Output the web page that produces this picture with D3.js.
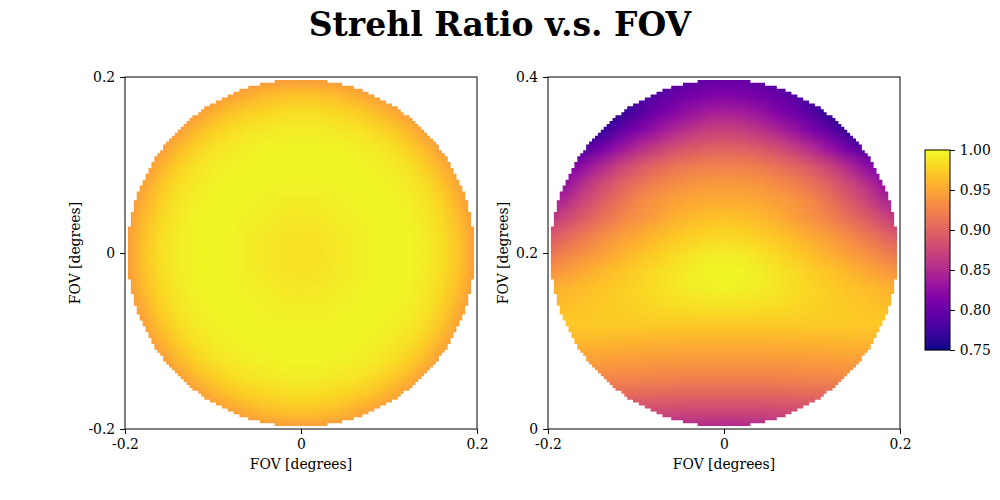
<!DOCTYPE html>
<html>
<head>
<meta charset="utf-8">
<script src="https://cdn.jsdelivr.net/npm/d3@7"></script>
<style>
  body { margin: 0; background: #fff; }
  svg { font-family: "DejaVu Serif", serif; }
</style>
</head>
<body>
<div id="chart"></div>
<script>
// Strehl ratio maps over the field of view

const chartTitle = 'Strehl Ratio v.s. FOV';
const axisLabel = 'FOV [degrees]';

const xTicks = [-0.2, 0, 0.2];
const xTickLabels = ['-0.2', '0', '0.2'];
const leftYTicks = [-0.2, 0, 0.2];
const leftYTickLabels = ['-0.2', '0', '0.2'];
const rightYTicks = [0, 0.2, 0.4];
const rightYTickLabels = ['0', '0.2', '0.4'];
const cbarTicks = [0.75, 0.80, 0.85, 0.90, 0.95, 1.00];

// sample positions of the grids (degrees)
const gridX = [-0.20, -0.18, -0.16, -0.14, -0.12, -0.10, -0.08, -0.06, -0.04, -0.02, 0.00,
  0.02, 0.04, 0.06, 0.08, 0.10, 0.12, 0.14, 0.16, 0.18, 0.20];
const leftGridY = [0.20, 0.18, 0.16, 0.14, 0.12, 0.10, 0.08, 0.06, 0.04, 0.02, 0.00,
  -0.02, -0.04, -0.06, -0.08, -0.10, -0.12, -0.14, -0.16, -0.18, -0.20];
const rightGridY = [0.40, 0.38, 0.36, 0.34, 0.32, 0.30, 0.28, 0.26, 0.24, 0.22, 0.20,
  0.18, 0.16, 0.14, 0.12, 0.10, 0.08, 0.06, 0.04, 0.02, 0.00];

// left map, rows top (y=0.2) to bottom (y=-0.2); null = outside the field
const leftStrehl = [
  [null,null,null,null,null,.918,.926,.932,.937,.940,.941,.940,.937,.932,.926,.918,null,null,null,null,null],
  [null,null,null,.916,.926,.937,.947,.955,.962,.966,.967,.966,.962,.955,.947,.937,.926,.916,null,null,null],
  [null,null,.916,.929,.942,.957,.968,.976,.981,.984,.985,.984,.981,.976,.968,.957,.942,.929,.916,null,null],
  [null,.916,.929,.944,.962,.975,.984,.989,.991,.993,.994,.993,.991,.989,.984,.975,.962,.944,.929,.916,null],
  [null,.926,.942,.962,.977,.987,.992,.995,.997,.998,.998,.998,.997,.995,.992,.987,.977,.962,.942,.926,null],
  [.918,.937,.957,.975,.987,.993,.996,.998,.999,.999,.999,.999,.999,.998,.996,.993,.987,.975,.957,.937,.918],
  [.926,.947,.968,.984,.992,.996,.998,.999,.998,.997,.997,.997,.998,.999,.998,.996,.992,.984,.968,.947,.926],
  [.932,.955,.976,.989,.995,.998,.999,.997,.996,.994,.994,.994,.996,.997,.999,.998,.995,.989,.976,.955,.932],
  [.937,.962,.981,.991,.997,.999,.998,.996,.993,.991,.990,.991,.993,.996,.998,.999,.997,.991,.981,.962,.937],
  [.940,.966,.984,.993,.998,.999,.997,.994,.991,.988,.987,.988,.991,.994,.997,.999,.998,.993,.984,.966,.940],
  [.941,.967,.985,.994,.998,.999,.997,.994,.990,.987,.986,.987,.990,.994,.997,.999,.998,.994,.985,.967,.941],
  [.940,.966,.984,.993,.998,.999,.997,.994,.991,.988,.987,.988,.991,.994,.997,.999,.998,.993,.984,.966,.940],
  [.937,.962,.981,.991,.997,.999,.998,.996,.993,.991,.990,.991,.993,.996,.998,.999,.997,.991,.981,.962,.937],
  [.932,.955,.976,.989,.995,.998,.999,.997,.996,.994,.994,.994,.996,.997,.999,.998,.995,.989,.976,.955,.932],
  [.926,.947,.968,.984,.992,.996,.998,.999,.998,.997,.997,.997,.998,.999,.998,.996,.992,.984,.968,.947,.926],
  [.918,.937,.957,.975,.987,.993,.996,.998,.999,.999,.999,.999,.999,.998,.996,.993,.987,.975,.957,.937,.918],
  [null,.926,.942,.962,.977,.987,.992,.995,.997,.998,.998,.998,.997,.995,.992,.987,.977,.962,.942,.926,null],
  [null,.916,.929,.944,.962,.975,.984,.989,.991,.993,.994,.993,.991,.989,.984,.975,.962,.944,.929,.916,null],
  [null,null,.916,.929,.942,.957,.968,.976,.981,.984,.985,.984,.981,.976,.968,.957,.942,.929,.916,null,null],
  [null,null,null,.916,.926,.937,.947,.955,.962,.966,.967,.966,.962,.955,.947,.937,.926,.916,null,null,null],
  [null,null,null,null,null,.918,.926,.932,.937,.940,.941,.940,.937,.932,.926,.918,null,null,null,null,null]
];

// right map, rows top (y=0.4) to bottom (y=0)
const rightStrehl = [
  [null,null,null,null,null,.760,.770,.780,.788,.793,.795,.793,.788,.780,.770,.760,null,null,null,null,null],
  [null,null,null,.755,.763,.775,.787,.797,.806,.812,.815,.812,.806,.797,.787,.775,.763,.755,null,null,null],
  [null,null,.750,.755,.765,.785,.802,.817,.830,.838,.842,.838,.830,.817,.802,.785,.765,.755,.750,null,null],
  [null,.752,.758,.768,.793,.812,.830,.846,.858,.868,.872,.868,.858,.846,.830,.812,.793,.768,.758,.752,null],
  [null,.772,.784,.805,.828,.849,.866,.880,.890,.896,.898,.896,.890,.880,.866,.849,.828,.805,.784,.772,null],
  [.790,.805,.825,.848,.870,.887,.900,.910,.917,.921,.922,.921,.917,.910,.900,.887,.870,.848,.825,.805,.790],
  [.810,.830,.855,.876,.895,.910,.922,.930,.936,.939,.940,.939,.936,.930,.922,.910,.895,.876,.855,.830,.810],
  [.835,.852,.875,.895,.912,.927,.937,.945,.950,.953,.954,.953,.950,.945,.937,.927,.912,.895,.875,.852,.835],
  [.860,.877,.895,.910,.924,.935,.945,.955,.962,.966,.967,.966,.962,.955,.945,.935,.924,.910,.895,.877,.860],
  [.890,.903,.917,.930,.942,.952,.961,.969,.975,.979,.980,.979,.975,.969,.961,.952,.942,.930,.917,.903,.890],
  [.912,.924,.935,.945,.955,.964,.972,.980,.987,.992,.993,.992,.987,.980,.972,.964,.955,.945,.935,.924,.912],
  [.935,.943,.952,.960,.968,.975,.982,.988,.994,.998,.999,.998,.994,.988,.982,.975,.968,.960,.952,.943,.935],
  [.955,.959,.964,.969,.974,.979,.984,.989,.993,.995,.996,.995,.993,.989,.984,.979,.974,.969,.964,.959,.955],
  [.963,.966,.969,.972,.975,.978,.981,.983,.985,.986,.986,.986,.985,.983,.981,.978,.975,.972,.969,.966,.963],
  [.970,.971,.972,.973,.973,.973,.973,.973,.972,.972,.972,.972,.972,.973,.973,.973,.973,.973,.972,.971,.970],
  [.959,.960,.960,.960,.959,.959,.958,.958,.957,.957,.957,.957,.957,.958,.958,.959,.959,.960,.960,.960,.959],
  [null,.945,.946,.946,.945,.944,.943,.943,.942,.942,.942,.942,.942,.943,.943,.944,.945,.946,.946,.945,null],
  [null,.929,.930,.930,.929,.928,.927,.926,.925,.925,.925,.925,.925,.926,.927,.928,.929,.930,.930,.929,null],
  [null,null,.905,.906,.906,.905,.904,.903,.902,.902,.902,.902,.902,.903,.904,.905,.906,.906,.905,null,null],
  [null,null,null,.876,.877,.877,.877,.876,.875,.875,.875,.875,.875,.876,.877,.877,.877,.876,null,null,null],
  [null,null,null,null,null,.848,.848,.847,.846,.845,.845,.845,.846,.847,.848,.848,null,null,null,null,null]
];

const width = 1000;
const height = 500;
const plotSize = 352;
const fieldRadius = 0.1975;   // radius of the field mask (degrees)
const maskCells = 120;        // pixel cells of the field mask across a panel
const tickLen = 4.9;
const tickPad = 4.9;
const fontSize = '13.9px';

const svg = d3.select('#chart')
  .append('svg')
  .attr('width', width)
  .attr('height', height);

const color = d3.scaleSequential(d3.interpolatePlasma)
  .domain([0.75, 1])
  .clamp(true);

svg.append('text')
  .attr('x', 500)
  .attr('y', 36)
  .attr('text-anchor', 'middle')
  .attr('font-size', '33px')
  .attr('font-weight', 'bold')
  .text(chartTitle);

function styleAxis(sel) {
  sel.attr('font-family', '"DejaVu Serif", serif')
    .attr('font-size', fontSize);
  sel.select('.domain').remove();
  sel.selectAll('line').attr('stroke', '#000').attr('stroke-width', 1);
  sel.selectAll('text').attr('fill', '#000');
}

function drawPanel(left, top, yDomain, yTicks, yTickLabels, gridY, values, yLabelX) {
  const x = d3.scaleLinear().domain([-0.2, 0.2]).range([0, plotSize]);
  const y = d3.scaleLinear().domain(yDomain).range([plotSize, 0]);
  const g = svg.append('g').attr('transform', `translate(${left},${top})`);

  // one pixel per sample, then let the canvas smooth it up to plot size
  const small = document.createElement('canvas');
  small.width = gridX.length;
  small.height = gridY.length;
  const sctx = small.getContext('2d');
  const img = sctx.createImageData(small.width, small.height);
  values.forEach((row, j) => {
    row.forEach((v, i) => {
      const k = (j * small.width + i) * 4;
      if (v == null) return;
      const c = d3.rgb(color(v));
      img.data[k] = c.r;
      img.data[k + 1] = c.g;
      img.data[k + 2] = c.b;
      img.data[k + 3] = 255;
    });
  });
  sctx.putImageData(img, 0, 0);

  const big = document.createElement('canvas');
  big.width = plotSize;
  big.height = plotSize;
  const ctx = big.getContext('2d');

  // stepped circular mask, like the pixel cells of the original image
  const yc = (yDomain[0] + yDomain[1]) / 2;
  const cell = 0.4 / maskCells;
  ctx.beginPath();
  for (let i = 0; i < maskCells; i++) {
    for (let j = 0; j < maskCells; j++) {
      const px = -0.2 + (i + 0.5) * cell;
      const py = yDomain[0] + (j + 0.5) * cell;
      if (px * px + (py - yc) * (py - yc) <= fieldRadius * fieldRadius) {
        const x0 = x(px - cell / 2), x1 = x(px + cell / 2);
        const y0 = y(py + cell / 2), y1 = y(py - cell / 2);
        ctx.rect(x0, y0, x1 - x0, y1 - y0);
      }
    }
  }
  ctx.clip();

  ctx.imageSmoothingEnabled = true;
  ctx.imageSmoothingQuality = 'low';
  const dx = x(gridX[1]) - x(gridX[0]);
  const dy = y(gridY[1]) - y(gridY[0]);
  ctx.drawImage(small, x(gridX[0]) - dx / 2, y(gridY[0]) - dy / 2,
    dx * gridX.length, dy * gridY.length);

  g.append('image')
    .attr('width', plotSize)
    .attr('height', plotSize)
    .attr('href', big.toDataURL());

  // axes
  g.append('g')
    .attr('transform', `translate(0,${plotSize})`)
    .call(d3.axisBottom(x).tickValues(xTicks)
      .tickFormat((d, i) => xTickLabels[i])
      .tickSize(tickLen).tickPadding(tickPad).tickSizeOuter(0))
    .call(styleAxis);

  g.append('g')
    .call(d3.axisLeft(y).tickValues(yTicks)
      .tickFormat((d, i) => yTickLabels[i])
      .tickSize(tickLen).tickPadding(tickPad).tickSizeOuter(0))
    .call(styleAxis);

  g.append('rect')
    .attr('x', 0)
    .attr('y', 0)
    .attr('width', plotSize)
    .attr('height', plotSize)
    .attr('fill', 'none')
    .attr('stroke', '#000')
    .attr('stroke-width', 1);

  g.append('text')
    .attr('x', plotSize / 2)
    .attr('y', 469 - top)
    .attr('text-anchor', 'middle')
    .attr('font-size', fontSize)
    .text(axisLabel);

  g.append('text')
    .attr('transform', `translate(${yLabelX - left},${plotSize / 2}) rotate(-90)`)
    .attr('text-anchor', 'middle')
    .attr('font-size', fontSize)
    .text(axisLabel);
}

drawPanel(125, 77, [-0.2, 0.2], leftYTicks, leftYTickLabels, leftGridY, leftStrehl, 80);
drawPanel(548, 77, [0, 0.4], rightYTicks, rightYTickLabels, rightGridY, rightStrehl, 508);

// colorbar
const cbar = { left: 925, top: 150, w: 25, h: 200 };
const cy = d3.scaleLinear().domain(color.domain()).range([cbar.h, 0]);
const cg = svg.append('g').attr('transform', `translate(${cbar.left},${cbar.top})`);
const steps = d3.range(cbar.h);
cg.selectAll('rect.step')
  .data(steps)
  .enter().append('rect')
  .attr('class', 'step')
  .attr('x', 0)
  .attr('y', d => d)
  .attr('width', cbar.w)
  .attr('height', 1.2)
  .attr('fill', d => color(cy.invert(d + 0.5)));

cg.append('g')
  .attr('transform', `translate(${cbar.w},0)`)
  .call(d3.axisRight(cy).tickValues(cbarTicks)
    .tickFormat(d3.format('.2f'))
    .tickSize(tickLen).tickPadding(tickPad).tickSizeOuter(0))
  .call(styleAxis);

cg.append('rect')
  .attr('width', cbar.w)
  .attr('height', cbar.h)
  .attr('fill', 'none')
  .attr('stroke', '#000')
  .attr('stroke-width', 1);
</script>
</body>
</html>
